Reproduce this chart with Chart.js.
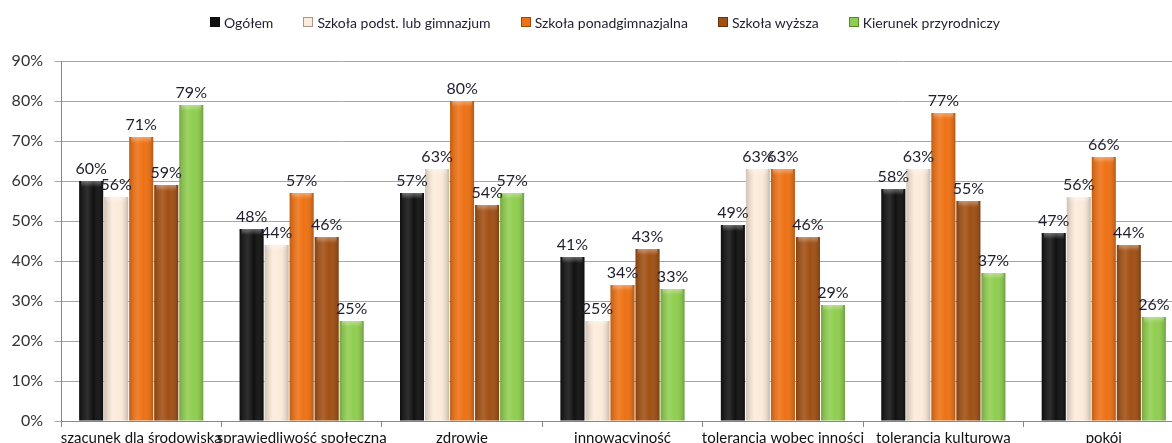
<!DOCTYPE html>
<html><head><meta charset="utf-8">
<script src="https://cdn.jsdelivr.net/npm/chart.js@4.4.1/dist/chart.umd.min.js"></script>
<style>
html,body{margin:0;padding:0;background:#fff;overflow:hidden;width:1172px;height:443px}
#wrap{position:absolute;left:0;top:0;width:1192px;height:443px}
#legend{position:absolute;left:0;top:13px;width:1210px;height:18px;display:flex;justify-content:center;align-items:center;gap:30px;font:14px Lato,"Open Sans",sans-serif;color:#1f1f2f;white-space:nowrap}
#legend span.it{display:flex;align-items:center}
#legend i{display:inline-block;width:8px;height:8px;margin-right:4px;border:0.5px solid rgba(0,0,0,0.35)}
</style>
</head><body><div id="wrap"><canvas id="c" width="1192" height="443"></canvas></div><div id="legend"></div>
<script>
const categories = ["szacunek dla środowiska","sprawiedliwość społeczna","zdrowie","innowacyjność","tolerancja wobec inności","tolerancja kulturowa","pokój"];
const seriesNames = ["Ogółem","Szkoła podst. lub gimnazjum","Szkoła ponadgimnazjalna","Szkoła wyższa","Kierunek przyrodniczy"];
const ogolem = [60,48,57,41,49,58,47];
const podst = [56,44,63,25,63,63,56];
const ponadgim = [71,57,80,34,63,77,66];
const wyzsza = [59,46,54,43,46,55,44];
const przyrodniczy = [79,25,57,33,29,37,26];
const yTicks = [0,10,20,30,40,50,60,70,80,90];
const colors = ["#111111","#FCEBDA","#EE7113","#A14F12","#8FCE4E"];
const seriesData = [ogolem,podst,ponadgim,wyzsza,przyrodniczy];
const FONT = 'Lato, "Open Sans", sans-serif';

const lg = document.getElementById('legend');
seriesNames.forEach((n,i)=>{
  const s = document.createElement('span'); s.className='it';
  const b = document.createElement('i'); b.style.background = colors[i];
  s.appendChild(b); s.appendChild(document.createTextNode(n)); lg.appendChild(s);
});

const labelPlugin = {
  id:'vals',
  afterDatasetsDraw(chart){
    const ctx = chart.ctx;
    ctx.save();
    ctx.font = '16px ' + FONT;
    ctx.fillStyle = '#1e1e2e';
    ctx.textAlign = 'center';
    ctx.textBaseline = 'bottom';
    chart.data.datasets.forEach((ds,i)=>{
      chart.getDatasetMeta(i).data.forEach((el,j)=>{
        ctx.fillText(ds.data[j]+'%', el.x, el.y-4);
      });
    });
    ctx.restore();
  }
};
const shadePlugin = {
  id:'shade',
  afterDatasetsDraw(chart){
    const ctx = chart.ctx;
    ctx.save();
    chart.data.datasets.forEach((ds,i)=>{
      chart.getDatasetMeta(i).data.forEach((el)=>{
        const l = el.x-el.width/2, r = el.x+el.width/2;
        const g = ctx.createLinearGradient(l,0,r,0);
        g.addColorStop(0,'rgba(0,0,0,0.18)');
        g.addColorStop(0.35,'rgba(255,255,255,0.12)');
        g.addColorStop(0.6,'rgba(255,255,255,0.0)');
        g.addColorStop(1,'rgba(0,0,0,0.22)');
        ctx.fillStyle = g;
        ctx.fillRect(l, el.y, el.width, el.base-el.y);
        const h = Math.min(6, el.base-el.y);
        const g2 = ctx.createLinearGradient(0,el.y,0,el.y+h);
        g2.addColorStop(0,'rgba(255,255,255,0.35)');
        g2.addColorStop(1,'rgba(255,255,255,0)');
        ctx.fillStyle = g2;
        ctx.fillRect(l+2, el.y, el.width-4, h);
      });
    });
    ctx.restore();
  }
};

new Chart(document.getElementById('c'),{
  type:'bar',
  data:{
    labels:categories,
    datasets:seriesNames.map((n,i)=>({label:n,data:seriesData[i],backgroundColor:colors[i],borderWidth:0,categoryPercentage:0.78,barPercentage:0.96}))
  },
  options:{
    responsive:false,animation:false,
    layout:{padding:{left:0,right:8,top:61,bottom:-6}},
    plugins:{
      legend:{display:false},
      tooltip:{enabled:false}
    },
    scales:{
      x:{grid:{drawOnChartArea:false,drawTicks:true,tickLength:6,color:'#888',offset:true},border:{color:'#888'},
         ticks:{color:'#111',font:{size:15,family:FONT},maxRotation:0,autoSkip:false,padding:2}},
      y:{min:0,max:90,afterFit:s=>{s.width=61;},
         afterBuildTicks:s=>{s.ticks=yTicks.map(v=>({value:v}));},
         grid:{color:'#A6A6A6',tickLength:6},border:{color:'#888'},
         ticks:{color:'#333',font:{size:16,family:FONT},callback:v=>v+'%',padding:12}}
    }
  },
  plugins:[shadePlugin,labelPlugin]
});
</script></body></html>
